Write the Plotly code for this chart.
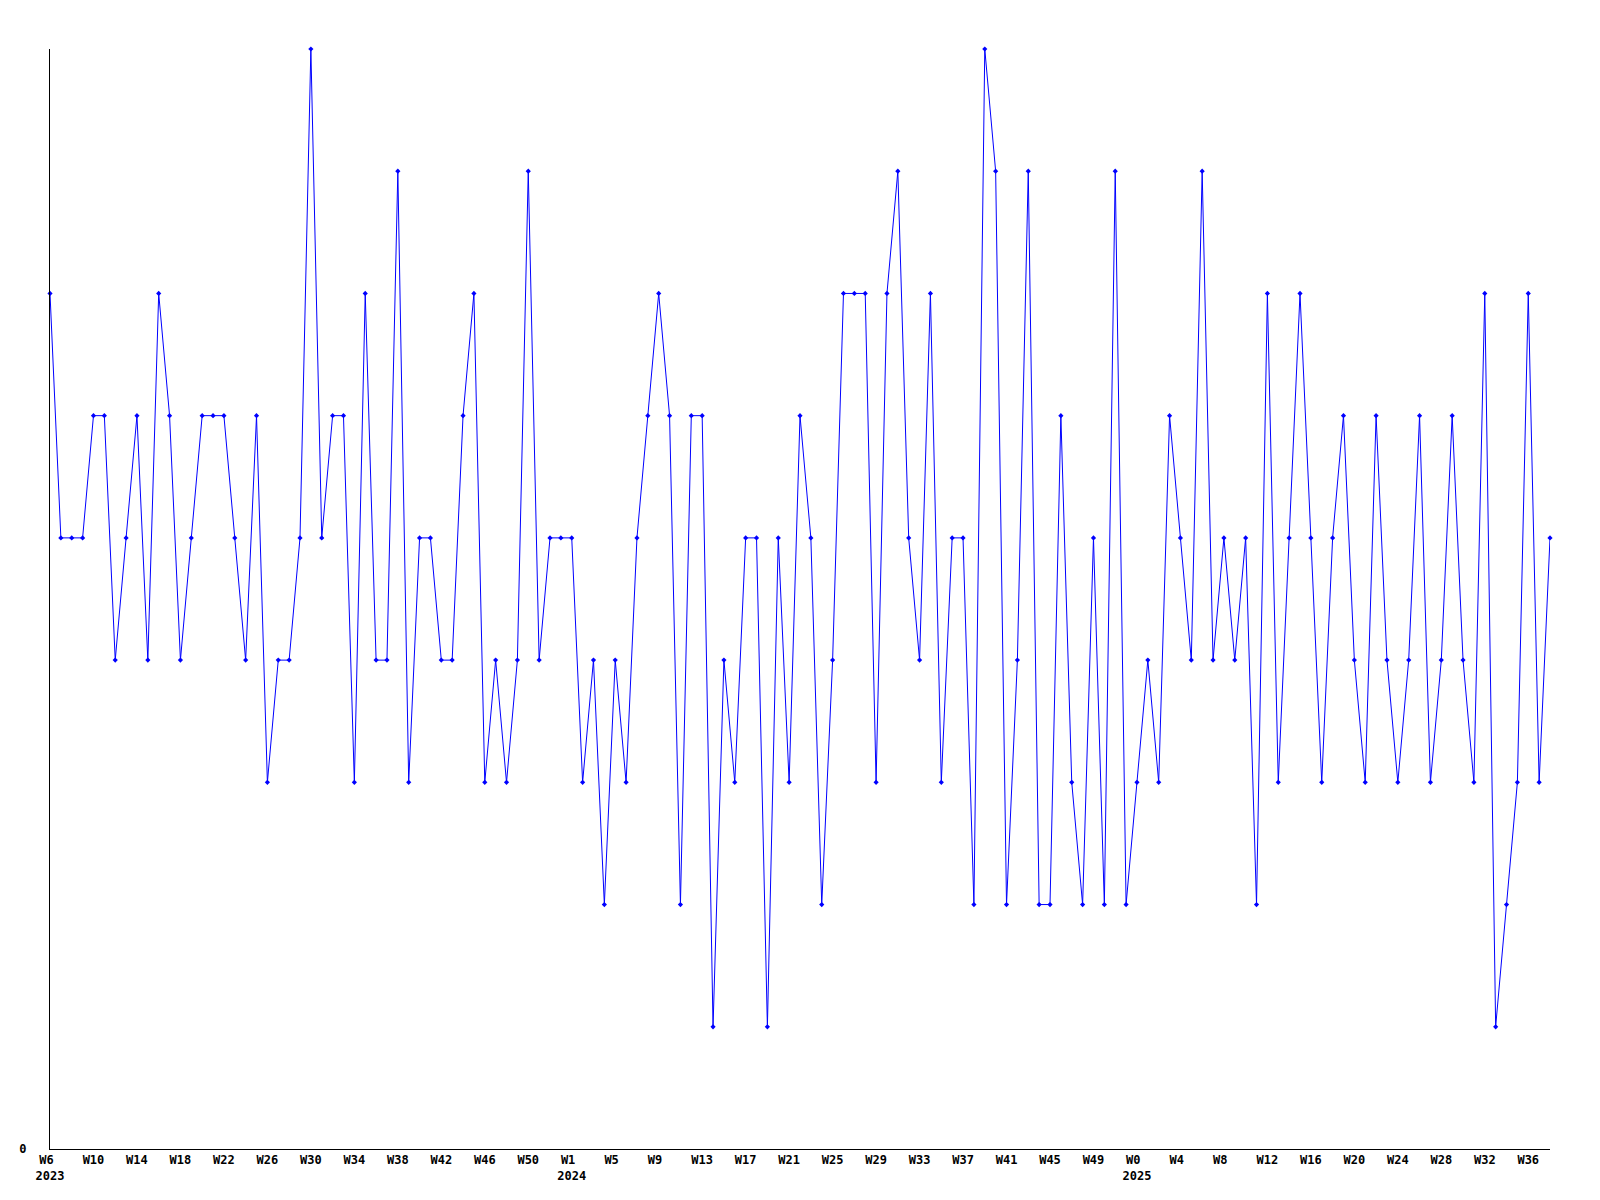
import plotly.graph_objects as go

# Weekly values (W6 2023 .. W38 2025)
values = [
    7, 5, 5, 5, 6, 6, 4, 5, 6, 4, 7, 6, 4, 5, 6, 6, 6, 5, 4, 6, 3,
    4, 4, 5, 9, 5, 6, 6, 3, 7, 4, 4, 8, 3, 5, 5, 4, 4, 6, 7, 3,
    4, 3, 4, 8, 4, 5, 5, 5, 3, 4, 2, 4, 3, 5, 6, 7, 6, 2, 6, 6,
    1, 4, 3, 5, 5, 1, 5, 3, 6, 5, 2, 4, 7, 7, 7, 3, 7, 8, 5, 4, 7,
    3, 5, 5, 2, 9, 8, 2, 4, 8, 2, 2, 6, 3, 2, 5, 2, 8, 2, 3, 4,
    3, 6, 5, 4, 8, 4, 5, 4, 5, 2, 7, 3, 5, 7, 5, 3, 5, 6, 4, 3,
    6, 4, 3, 4, 6, 3, 4, 6, 4, 3, 7, 1, 2, 3, 7, 3, 5,
]

# Tick labels, one every 4 weeks
tick_weeks_2023 = ["W6", "W10", "W14", "W18", "W22", "W26", "W30", "W34", "W38", "W42", "W46", "W50"]
tick_weeks_2024 = ["W1", "W5", "W9", "W13", "W17", "W21", "W25", "W29", "W33", "W37", "W41", "W45", "W49"]
tick_weeks_2025 = ["W0", "W4", "W8", "W12", "W16", "W20", "W24", "W28", "W32", "W36"]
tick_years = {"W6": "2023", "W1": "2024", "W0": "2025"}
tick_step = 4

ticktext = []
for group in (tick_weeks_2023, tick_weeks_2024, tick_weeks_2025):
    for j, w in enumerate(group):
        lab = w + "\u00a0" * (3 - len(w))
        if j == 0:
            lab = lab + "<br>" + tick_years[w]
        ticktext.append(lab)
tickvals = [k * tick_step for k in range(len(ticktext))]

x = list(range(len(values)))

fig = go.Figure()
fig.add_trace(go.Scatter(
    x=x, y=values, mode="lines+markers",
    line=dict(color="#0000ff", width=1),
    marker=dict(symbol="diamond", size=4, color="#0000ff"),
    cliponaxis=False,
    showlegend=False,
))

font = dict(family="DejaVu Sans Mono", size=12, color="black", weight="bold")

fig.update_layout(
    width=1600, height=1200,
    margin=dict(l=42, r=58, t=41, b=59, autoexpand=False),
    paper_bgcolor="white", plot_bgcolor="white",
    xaxis=dict(
        range=[0, len(values) - 1], automargin=False,
        tickmode="array", tickvals=tickvals, ticktext=ticktext,
        showgrid=False, zeroline=False, showline=True, linecolor="black", linewidth=1,
        ticks="", tickfont=font, tickangle=0,
    ),
    yaxis=dict(
        range=[0, 9], automargin=False,
        tickmode="array", tickvals=[0], ticktext=["0"],
        showgrid=False, zeroline=False, showline=True, linecolor="black", linewidth=1,
        ticks="", tickfont=font, ticklabelstandoff=20,
    ),
)

fig.write_html("out.html")
